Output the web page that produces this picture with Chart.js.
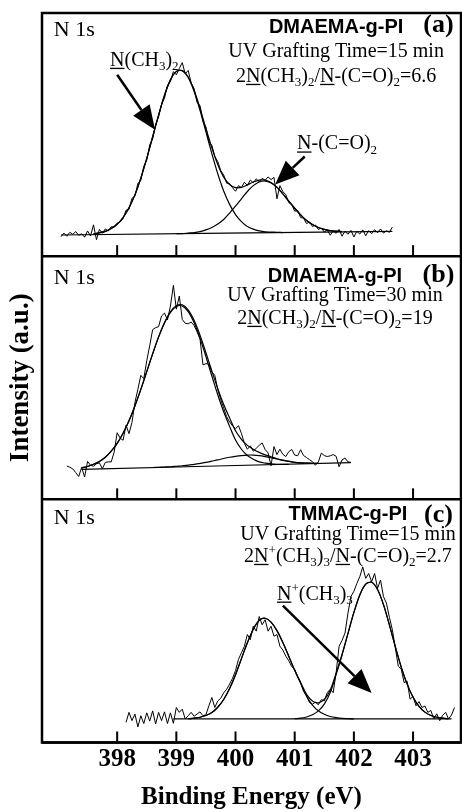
<!DOCTYPE html>
<html lang="en">
<head>
  <meta charset="UTF-8">
  <title>N 1s XPS spectra</title>
  <script src="https://cdn.jsdelivr.net/npm/chart.js@4.4.1/dist/chart.umd.min.js"></script>
  <style>
    html, body { margin: 0; padding: 0; background: #fff; }
    canvas { display: block; }
  </style>
</head>
<body>
<canvas id="xps" width="462" height="812"></canvas>
<script>
// binding energy grids (eV)
const energyRaw = [
  397.05, 397.1, 397.15, 397.2, 397.25, 397.3, 397.35, 397.4, 397.45, 397.5, 397.55, 397.6, 397.65, 397.7, 397.75, 397.8, 397.85, 397.9, 397.95,
  398, 398.05, 398.1, 398.15, 398.2, 398.25, 398.3, 398.35, 398.4, 398.45, 398.5, 398.55, 398.6, 398.65, 398.7, 398.75, 398.8, 398.85, 398.9, 398.95,
  399, 399.05, 399.1, 399.15, 399.2, 399.25, 399.3, 399.35, 399.4, 399.45, 399.5, 399.55, 399.6, 399.65, 399.7, 399.75, 399.8, 399.85, 399.9, 399.95,
  400, 400.05, 400.1, 400.15, 400.2, 400.25, 400.3, 400.35, 400.4, 400.45, 400.5, 400.55, 400.6, 400.65, 400.7, 400.75, 400.8, 400.85, 400.9, 400.95,
  401, 401.05, 401.1, 401.15, 401.2, 401.25, 401.3, 401.35, 401.4, 401.45, 401.5, 401.55, 401.6, 401.65, 401.7, 401.75, 401.8, 401.85, 401.9, 401.95,
  402, 402.05, 402.1, 402.15, 402.2, 402.25, 402.3, 402.35, 402.4, 402.45, 402.5, 402.55, 402.6, 402.65, 402.7, 402.75, 402.8, 402.85, 402.9, 402.95,
  403, 403.05, 403.1, 403.15, 403.2, 403.25, 403.3, 403.35, 403.4, 403.45, 403.5, 403.55, 403.6, 403.65, 403.7
];
const energyFit = [
  397.4, 397.5, 397.6, 397.7, 397.8, 397.9,
  398, 398.1, 398.2, 398.3, 398.4, 398.5, 398.6, 398.7, 398.8, 398.9,
  399, 399.1, 399.2, 399.3, 399.4, 399.5, 399.6, 399.7, 399.8, 399.9,
  400, 400.1, 400.2, 400.3, 400.4, 400.5, 400.6, 400.7, 400.8, 400.9,
  401, 401.1, 401.2, 401.3, 401.4, 401.5, 401.6, 401.7, 401.8, 401.9,
  402, 402.1, 402.2, 402.3, 402.4, 402.5, 402.6, 402.7, 402.8, 402.9,
  403, 403.1, 403.2, 403.3, 403.4, 403.5, 403.6
];
const tickValues = [398, 399, 400, 401, 402, 403];

// (a) DMAEMA-g-PI, 15 min
const rawA = [
  8.0, 9.5, 8.2, 9.8, 9.0, 10.1, 8.6, 9.2, 7.8, 10.4, 8.3, 12.9, 6.8, 11.0, 9.4, 11.2, 10.4, 12.1, 11.9,
  13.6, 14.0, 15.4, 18.9, 19.2, 23.8, 24.6, 29.9, 31.2, 37.0, 39.5, 45.8, 48.2, 54.1, 57.3, 62.4, 65.0, 70.2, 71.8, 75.9,
  74.6, 77.2, 79.6, 75.0, 76.4, 71.3, 68.9, 63.2, 62.0, 55.4, 53.1, 47.0, 45.6, 41.0, 38.9, 35.2, 33.4, 30.0, 29.8, 28.1,
  26.7, 29.0, 28.2, 30.4, 29.1, 31.3, 30.2, 31.8, 30.6, 32.0, 31.2, 32.6, 31.5, 32.4, 23.6, 29.0, 26.5, 25.3, 22.0, 21.2,
  18.5, 18.8, 15.9, 15.6, 13.4, 14.1, 12.2, 12.8, 11.0, 11.6, 9.9, 10.8, 8.6, 10.4, 9.4, 11.0, 8.2, 10.3, 9.0, 10.6,
  7.9, 10.2, 9.1, 10.8, 8.4, 10.5, 9.3, 10.9, 9.6, 11.2, 9.5, 10.4, 9.8, 12.0
];
const rawStartA = 397.05;
const amineA = [
  9.2, 9.6, 10.2, 11.4,
  13.1, 15.9, 19.9, 25.2, 32.1, 40.2, 49.1, 58.0, 66.2, 72.5,
  76.0, 76.3, 73.5, 67.8, 60.0, 51.1, 42.2, 33.9, 26.8, 21.3,
  17.1, 14.2, 12.2, 11.1, 10.4, 10.0, 9.9, 9.8, 9.7
];
const amineStartA = 397.6;
const imideA = [
  9.3, 9.3, 9.5, 9.7, 10.1, 10.8, 11.8, 13.2, 15.1, 17.7,
  20.6, 23.6, 26.6, 29.0, 30.5, 30.9, 30.1, 28.3, 25.6, 22.6,
  19.7, 17.0, 14.7, 13.0, 11.8, 11.0, 10.5, 10.3, 10.1
];
const imideStartA = 399.0;
const envelopeA = [
  9.2, 9.6, 10.2, 11.4,
  13.1, 15.9, 19.9, 25.2, 32.1, 40.2, 49.1, 58.0, 66.2, 72.5,
  76.0, 76.3, 73.7, 68.2, 60.8, 52.5, 44.6, 37.7, 32.5, 29.5,
  28.2, 28.3, 29.3, 30.5, 31.3, 31.3, 30.3, 28.4, 25.6, 22.6,
  19.7, 17.0, 14.7, 13.0, 11.8, 11.0, 10.5, 10.3, 10.1
];
const envelopeStartA = 397.6;
const baselineEnergyA = [397.05, 402.65];
const baselineA = [8.7, 10.2];

// (b) DMAEMA-g-PI, 30 min
const rawB = [
  13.7, 13.2, 12.5, 11.0, 9.4, 13.1, 9.2, 15.6, 14.0, 13.6, 14.6, 15.0, 12.6, 15.2, 15.4, 15.4, 19.5,
  27.4, 25.2, 24.3, 30.5, 27.0, 31.6, 39.8, 45.2, 51.0, 49.6, 57.0, 63.2, 69.8, 70.6, 71.0, 75.4, 76.6, 73.8, 79.5, 88.0,
  78.2, 83.6, 74.0, 72.4, 72.2, 72.9, 71.5, 68.9, 66.0, 55.3, 55.8, 55.6, 52.4, 51.0, 45.2, 41.0, 37.6, 34.0, 31.8, 30.2,
  29.0, 30.3, 27.1, 23.0, 20.6, 22.0, 19.8, 21.0, 22.2, 23.2, 20.5, 19.1, 13.8, 21.7, 18.4, 20.6, 18.5, 17.6, 19.6, 20.5,
  18.2, 17.9, 20.4, 18.0, 17.2, 16.3, 15.5, 14.0, 15.4, 19.0, 18.0, 17.6, 17.9, 18.4, 17.7, 13.4, 16.2, 17.0, 15.4, 15.2
];
const rawStartB = 397.15;
const amineB = [
  13.0, 13.5, 14.4, 15.6, 17.3, 19.8,
  23.0, 27.2, 32.3, 38.4, 45.2, 52.5, 59.8, 66.7, 72.5, 76.9,
  79.3, 79.5, 77.2, 72.6, 66.2, 58.7, 50.7, 43.0, 36.0, 30.0,
  24.4, 20.6, 18.0, 16.5, 15.4, 14.9, 14.6, 14.4, 14.4, 14.4
];
const amineStartB = 397.4;
const imideB = [
  13.1, 13.2, 13.3, 13.4,
  13.6, 13.8, 14.1, 14.4, 14.8, 15.2, 15.7, 16.2, 16.8, 17.3,
  17.7, 18.0, 18.2, 18.2, 18.0, 17.6, 17.1, 16.6, 16.0, 15.6,
  15.2, 15.0, 14.9, 14.8, 14.8
];
const imideStartB = 398.6;
const envelopeB = [
  13.0, 13.5, 14.4, 15.6, 17.3, 19.8,
  23.0, 27.2, 32.3, 38.4, 45.2, 52.5, 59.9, 66.8, 72.7, 77.1,
  79.6, 80.0, 77.9, 73.6, 67.5, 60.3, 52.8, 45.5, 39.0, 33.5,
  28.2, 24.7, 22.2, 20.6, 19.3, 18.3, 17.5, 16.7, 16.1, 15.7,
  15.2, 15.0, 14.9, 14.8, 14.8
];
const envelopeStartB = 397.4;
const baselineEnergyB = [397.4, 401.95];
const baselineB = [12.3, 15.1];

// (c) TMMAC-g-PI, 15 min
const rawC = [
  8.3, 12.4, 9.0, 11.7, 6.4, 11.0, 7.8, 12.2, 8.8, 13.0, 7.6, 12.4, 9.0, 12.6, 7.8, 12.2, 7.9,
  14.4, 12.4, 13.7, 9.7, 11.0, 12.4, 10.8, 11.7, 12.6, 11.0, 11.4, 15.1, 18.5, 14.4, 17.1, 18.2, 20.4, 21.9, 24.0, 26.4,
  29.6, 34.2, 36.9, 39.6, 44.4, 42.3, 47.8, 45.8, 51.8, 48.4, 50.5, 45.8, 47.8, 43.7, 44.4, 39.6, 38.0, 35.5, 33.6, 31.2,
  30.1, 27.0, 24.6, 21.0, 19.2, 16.4, 15.8, 16.6, 15.5, 17.6, 17.1, 20.5, 21.9, 20.5, 28.7, 39.6, 42.0, 45.0, 53.2, 60.0,
  62.2, 65.4, 68.2, 72.2, 67.5, 69.5, 66.1, 69.5, 63.4, 66.8, 60.0, 57.3, 51.5, 46.4, 39.0, 31.4, 30.2, 24.6, 25.2, 17.8,
  19.0, 15.1, 16.8, 14.4, 15.0, 12.4, 13.2, 9.7, 11.8, 9.0, 11.2, 12.4, 9.7, 11.3, 14.4
];
const rawStartC = 398.15;
const imideC = [
  9.8, 10.0, 10.4, 11.1, 12.3, 14.5, 17.7, 22.2,
  27.9, 34.5, 41.0, 46.6, 50.2, 51.1, 49.5, 46.0, 41.1, 35.4,
  29.6, 24.4, 19.0, 15.4, 13.0, 11.6, 10.7, 10.2, 9.9, 9.8,
  9.7
];
const imideStartC = 399.2;
const ammoniumC = [
  9.8, 10.0, 10.5, 11.4, 13.0, 15.8, 20.5, 28.0, 36.0, 44.8,
  53.5, 60.7, 65.1, 65.9, 62.9, 56.7, 48.4, 39.4, 31.0, 24.0,
  18.6, 14.9, 12.5, 11.1, 10.4, 10.0, 9.8
];
const ammoniumStartC = 401.0;
const envelopeC = [
  9.8, 10.0, 10.4, 11.1, 12.3, 14.5, 17.7, 22.2,
  27.9, 34.5, 41.0, 46.6, 50.2, 51.1, 49.5, 46.0, 41.1, 35.5,
  29.7, 24.7, 19.8, 17.1, 16.3, 17.7, 21.5, 28.5, 36.2, 44.9,
  53.5, 60.7, 65.1, 65.9, 62.9, 56.7, 48.4, 39.4, 31.0, 24.0,
  18.6, 14.9, 12.5, 11.1, 10.4, 10.0, 9.8
];
const envelopeStartC = 399.2;
const baselineEnergyC = [398.95, 403.65];
const baselineC = [9.7, 9.7];

function pts(grid, start, values) {
  const i0 = grid.indexOf(start);
  return values.map((v, i) => ({ x: grid[i0 + i], y: v }));
}
function pairs(xs, ys) {
  return ys.map((v, i) => ({ x: xs[i], y: v }));
}
function raw(axis, data) {
  return { data, yAxisID: axis, borderColor: '#000', borderWidth: 1, pointRadius: 0, tension: 0 };
}
function fit(axis, data) {
  return { data, yAxisID: axis, borderColor: '#000', borderWidth: 1.2, pointRadius: 0, tension: 0.3 };
}

const serif = "'Liberation Serif', 'Times New Roman', serif";
const sans = "'Liberation Sans', Arial, sans-serif";

// formula text: [text, style]  style: '' | 'u' underline | 'sub' | 'sup'
function rich(ctx, parts, x, y, size, align) {
  const small = Math.round(size * 0.65);
  const fontOf = p => (p[1] === 'sub' || p[1] === 'sup' ? small : size) + 'px ' + serif;
  const widths = parts.map(p => { ctx.font = fontOf(p); return ctx.measureText(p[0]).width; });
  const total = widths.reduce((a, b) => a + b, 0);
  let cx = align === 'center' ? x - total / 2 : x;
  ctx.textAlign = 'left';
  ctx.textBaseline = 'alphabetic';
  parts.forEach((p, i) => {
    ctx.font = fontOf(p);
    let dy = 0;
    if (p[1] === 'sub') dy = size * 0.22;
    if (p[1] === 'sup') dy = -size * 0.38;
    ctx.fillText(p[0], cx, y + dy);
    if (p[1] === 'u') ctx.fillRect(cx, y + 2, widths[i], 1.3);
    cx += widths[i];
  });
}

function arrow(ctx, x1, y1, x2, y2) {
  const ang = Math.atan2(y2 - y1, x2 - x1);
  const len = 24, half = 10;
  const bx = x2 - len * Math.cos(ang), by = y2 - len * Math.sin(ang);
  ctx.lineWidth = 2.5;
  ctx.beginPath();
  ctx.moveTo(x1, y1);
  ctx.lineTo(bx, by);
  ctx.stroke();
  ctx.beginPath();
  ctx.moveTo(x2, y2);
  ctx.lineTo(bx + half * Math.sin(ang), by - half * Math.cos(ang));
  ctx.lineTo(bx - half * Math.sin(ang), by + half * Math.cos(ang));
  ctx.closePath();
  ctx.fill();
}

const ratioA = [['2', ''], ['N', 'u'], ['(CH', ''], ['3', 'sub'], [')', ''], ['2', 'sub'], ['/', ''], ['N', 'u'], ['-(C=O)', ''], ['2', 'sub'], ['=6.6', '']];
const ratioB = [['2', ''], ['N', 'u'], ['(CH', ''], ['3', 'sub'], [')', ''], ['2', 'sub'], ['/', ''], ['N', 'u'], ['-(C=O)', ''], ['2', 'sub'], ['=19', '']];
const ratioC = [['2', ''], ['N', 'u'], ['+', 'sup'], ['(CH', ''], ['3', 'sub'], [')', ''], ['3', 'sub'], ['/', ''], ['N', 'u'], ['-(C=O)', ''], ['2', 'sub'], ['=2.7', '']];
const labAmine = [['N', 'u'], ['(CH', ''], ['3', 'sub'], [')', ''], ['2', 'sub']];
const labImide = [['N', 'u'], ['-(C=O)', ''], ['2', 'sub']];
const labAmmonium = [['N', 'u'], ['+', 'sup'], ['(CH', ''], ['3', 'sub'], [')', ''], ['3', 'sub']];

const panelPlugin = {
  id: 'panels',
  afterDatasetsDraw(chart) {
    const ctx = chart.ctx;
    const { left, right, top, bottom } = chart.chartArea;
    const xs = chart.scales.x;
    const X = v => xs.getPixelForValue(v);
    const Y = (id, v) => chart.scales[id].getPixelForValue(v);
    ctx.save();
    ctx.strokeStyle = '#000';
    ctx.fillStyle = '#000';

    // frame and panel separators
    ctx.lineWidth = 2.5;
    ctx.strokeRect(left, top, right - left, bottom - top);
    ['ya', 'yb', 'yc'].forEach(id => {
      const yb = chart.scales[id].bottom;
      ctx.beginPath(); ctx.moveTo(left, yb); ctx.lineTo(right, yb); ctx.stroke();
    });
    // inward ticks in each panel
    ctx.lineWidth = 2;
    ['ya', 'yb', 'yc'].forEach(id => {
      const pb = chart.scales[id].bottom;
      tickValues.forEach(v => {
        ctx.beginPath(); ctx.moveTo(X(v), pb); ctx.lineTo(X(v), pb - 11); ctx.stroke();
      });
    });

    const plain = (txt, x, y, font, align) => {
      ctx.font = font; ctx.textAlign = align; ctx.textBaseline = 'alphabetic';
      ctx.fillText(txt, x, y);
    };
    const head = [
      ['ya', 'DMAEMA-g-PI', '(a)', 'UV Grafting Time=15 min', ratioA, [90.6, 91.8, 92.2, 82.0, 71.7], 401.70],
      ['yb', 'DMAEMA-g-PI', '(b)', 'UV Grafting Time=30 min', ratioB, [88.6, 89.4, 89.4, 81.6, 72.2], 401.68],
      ['yc', 'TMMAC-g-PI', '(c)', 'UV Grafting Time=15 min', ratioC, [89.8, 91.4, 90.6, 83.3, 74.3], 401.90]
    ];
    head.forEach(([id, sample, tag, time, ratio, ys, cx]) => {
      plain('N 1s', X(396.93), Y(id, ys[0]), '22px ' + serif, 'left');
      plain(sample, X(cx), Y(id, ys[1]), 'bold 20px ' + sans, 'center');
      plain(tag, X(403.43), Y(id, ys[2]), 'bold 26px ' + serif, 'center');
      plain(time, X(cx), Y(id, ys[3]), '20px ' + serif, 'center');
      rich(ctx, ratio, X(cx), Y(id, ys[4]), 20, 'center');
    });

    // peak labels and arrows
    rich(ctx, labAmine, X(397.88), Y('ya', 78.3), 20, 'left');
    arrow(ctx, X(398.0), Y('ya', 74.6), X(398.64), Y('ya', 52.0));
    rich(ctx, labImide, X(401.04), Y('ya', 43.9), 20, 'left');
    arrow(ctx, X(401.17), Y('ya', 41.0), X(400.67), Y('ya', 29.5));
    rich(ctx, labAmmonium, X(400.70), Y('yc', 58.8), 20, 'left');
    arrow(ctx, X(400.80), Y('yc', 56.3), X(402.30), Y('yc', 20.4));
    ctx.restore();
  }
};

function panelAxis(title) {
  return {
    type: 'linear', position: 'left', stack: 'n1s', stackWeight: 1,
    min: 0, max: 100,
    ticks: { display: false },
    grid: { display: false, drawTicks: false },
    border: { display: false },
    title: title ? {
      display: true, text: title, color: '#000',
      font: { family: serif, weight: 'bold', size: 27, lineHeight: 1 },
      padding: { top: 0, bottom: 7 }
    } : { display: false }
  };
}

new Chart(document.getElementById('xps').getContext('2d'), {
  type: 'line',
  data: {
    datasets: [
      raw('ya', pts(energyRaw, rawStartA, rawA)),
      fit('ya', pairs(baselineEnergyA, baselineA)),
      fit('ya', pts(energyFit, amineStartA, amineA)),
      fit('ya', pts(energyFit, imideStartA, imideA)),
      fit('ya', pts(energyFit, envelopeStartA, envelopeA)),
      raw('yb', pts(energyRaw, rawStartB, rawB)),
      fit('yb', pairs(baselineEnergyB, baselineB)),
      fit('yb', pts(energyFit, amineStartB, amineB)),
      fit('yb', pts(energyFit, imideStartB, imideB)),
      fit('yb', pts(energyFit, envelopeStartB, envelopeB)),
      raw('yc', pts(energyRaw, rawStartC, rawC)),
      fit('yc', pairs(baselineEnergyC, baselineC)),
      fit('yc', pts(energyFit, imideStartC, imideC)),
      fit('yc', pts(energyFit, ammoniumStartC, ammoniumC)),
      fit('yc', pts(energyFit, envelopeStartC, envelopeC))
    ]
  },
  options: {
    responsive: false,
    animation: false,
    devicePixelRatio: 1,
    layout: { padding: { left: 8, right: 1, top: 13, bottom: 1.5 } },
    plugins: { legend: { display: false }, tooltip: { enabled: false } },
    scales: {
      x: {
        type: 'linear', min: 396.73, max: 403.81,
        afterBuildTicks: s => { s.ticks = tickValues.map(v => ({ value: v })); },
        ticks: {
          color: '#000', padding: 5, maxRotation: 0, autoSkip: false,
          font: { family: serif, weight: 'bold', size: 25, lineHeight: 1 },
          callback: v => String(v)
        },
        grid: { display: false, drawTicks: false },
        border: { display: false },
        title: {
          display: true, text: 'Binding Energy (eV)', color: '#000',
          font: { family: serif, weight: 'bold', size: 25, lineHeight: 1 },
          padding: { top: 8, bottom: 0 }
        }
      },
      // left stack is laid out last-declared on top
      yc: panelAxis(null),
      yb: panelAxis('Intensity (a.u.)'),
      ya: panelAxis(null)
    }
  },
  plugins: [panelPlugin]
});
</script>
</body>
</html>
